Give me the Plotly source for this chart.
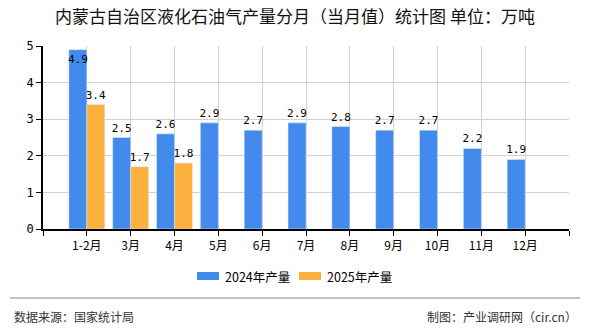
import plotly.graph_objects as go

categories = ["1-2月", "3月", "4月", "5月", "6月", "7月", "8月", "9月", "10月", "11月", "12月"]
values_2024 = [4.9, 2.5, 2.6, 2.9, 2.7, 2.9, 2.8, 2.7, 2.7, 2.2, 1.9]
values_2025 = [3.4, 1.7, 1.8]
series_names = ["2024年产量", "2025年产量"]
title_text = "内蒙古自治区液化石油气产量分月（当月值）统计图 单位：万吨"
source_text = "数据来源：国家统计局"
credit_text = "制图：产业调研网（cir.cn）"

BLUE = "#428BEC"
ORANGE = "#FCB03E"
W, H = 590, 330
ML, MR, MT, MB = 43, 21, 46, 101
PW, PH = W - ML - MR, H - MT - MB

x_idx = list(range(len(categories)))
label_font = dict(family="DejaVu Sans Mono, monospace", size=11, color="#000000")


def positions(vals):
    return ["inside" if v > 4.5 else "outside" for v in vals]


def px_x(px):
    return (px - ML) / PW


def px_y(py):
    return (H - MB - py) / PH


fig = go.Figure()
for name, vals, color in [(series_names[0], values_2024, BLUE), (series_names[1], values_2025, ORANGE)]:
    fig.add_trace(go.Bar(
        x=x_idx[:len(vals)], y=vals, name=name, marker_color=color,
        text=[f"{v:.1f}" for v in vals], textposition=positions(vals), textangle=0,
        insidetextanchor="end", textfont=label_font, insidetextfont=label_font,
        outsidetextfont=label_font, constraintext="none", cliponaxis=False,
        showlegend=False,
    ))

tickvals = [-1] + x_idx + [len(categories)]
ticktext = [""] + categories + [""]

fig.update_layout(
    width=W, height=H,
    margin=dict(l=ML, r=MR, t=MT, b=MB),
    paper_bgcolor="white", plot_bgcolor="white",
    barmode="group", bargap=0.18, bargroupgap=0,
    font=dict(family="Noto Sans CJK SC, sans-serif", size=12, color="#000000"),
    title=dict(text=title_text, x=0.5, xanchor="center", xref="container",
               y=1 - 17 / H, yanchor="middle", yref="container",
               font=dict(size=17, color="#111111", family="Noto Sans CJK SC")),
    xaxis=dict(
        range=[-1, len(categories)], tickmode="array", tickvals=tickvals, ticktext=ticktext,
        showgrid=True, gridcolor="#d2d2d2", gridwidth=1,
        showline=True, linecolor="#000000", linewidth=1.5,
        ticks="outside", ticklen=5, tickcolor="#000000", tickwidth=1,
        tickfont=dict(size=12, color="#000000", family="Noto Sans CJK SC"),
        zeroline=False, fixedrange=True,
    ),
    yaxis=dict(
        range=[0, 5], dtick=1, tick0=0,
        showgrid=True, gridcolor="#d2d2d2", gridwidth=1,
        showline=True, linecolor="#000000", linewidth=1.5,
        ticks="outside", ticklen=5, tickcolor="#000000", tickwidth=1,
        tickfont=dict(size=12, color="#000000", family="DejaVu Sans Mono, monospace"),
        zeroline=False, fixedrange=True,
    ),
    showlegend=False,
)

# custom legend (swatch rectangles + labels)
legend_items = [(series_names[0], BLUE, 197), (series_names[1], ORANGE, 299)]
for name, color, lx in legend_items:
    fig.add_shape(type="rect", xref="paper", yref="paper",
                  x0=px_x(lx), x1=px_x(lx + 22), y0=px_y(280), y1=px_y(272),
                  fillcolor=color, line=dict(width=0))
    fig.add_annotation(text=name, xref="paper", yref="paper",
                       x=px_x(lx + 26), xanchor="left", y=px_y(276), yanchor="middle",
                       showarrow=False,
                       font=dict(size=12.5, color="#000000", family="Noto Sans CJK SC"))

# footer separator line and texts
fig.add_shape(type="line", xref="paper", yref="paper",
              x0=px_x(10), x1=px_x(580), y0=px_y(298), y1=px_y(298),
              line=dict(color="#888888", width=1))
fig.add_annotation(text=source_text, xref="paper", yref="paper",
                   x=px_x(12), xanchor="left", y=px_y(316), yanchor="middle", showarrow=False,
                   font=dict(size=12, color="#333333", family="Noto Sans CJK SC"))
fig.add_annotation(text=credit_text, xref="paper", yref="paper",
                   x=px_x(579), xanchor="right", y=px_y(316), yanchor="middle", showarrow=False,
                   font=dict(size=12, color="#333333", family="Noto Sans CJK SC"))

fig.write_html("out.html")
